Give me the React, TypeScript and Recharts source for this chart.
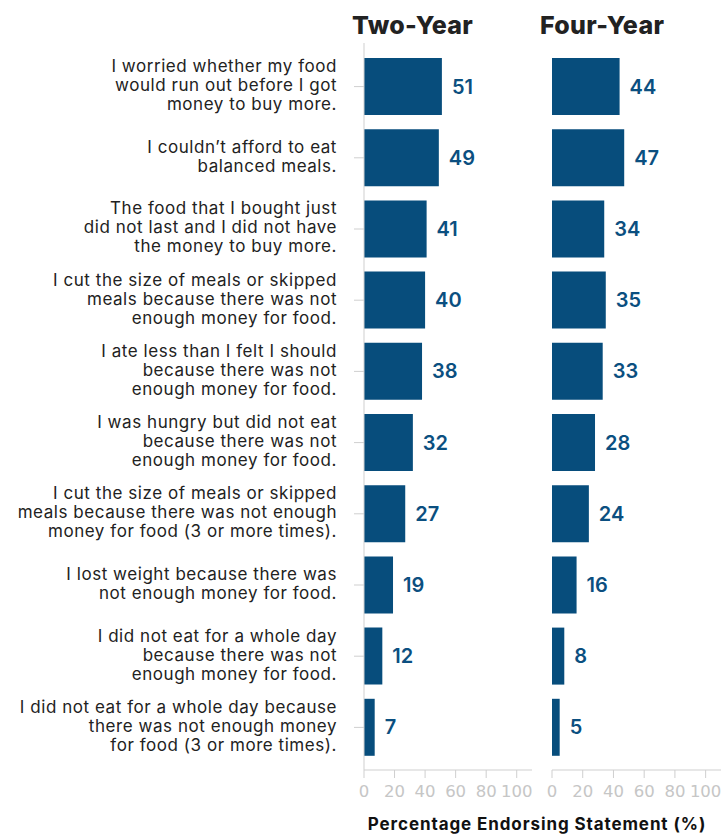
import React from 'react';
import { BarChart, Bar, XAxis, YAxis, LabelList } from 'recharts';

// statements, split into the lines shown on the chart
const statements: string[][] = [
  ['I worried whether my food', 'would run out before I got', 'money to buy more.'],
  ['I couldn\u2019t afford to eat', 'balanced meals.'],
  ['The food that I bought just', 'did not last and I did not have', 'the money to buy more.'],
  ['I cut the size of meals or skipped', 'meals because there was not', 'enough money for food.'],
  ['I ate less than I felt I should', 'because there was not', 'enough money for food.'],
  ['I was hungry but did not eat', 'because there was not', 'enough money for food.'],
  ['I cut the size of meals or skipped', 'meals because there was not enough', 'money for food (3 or more times).'],
  ['I lost weight because there was', 'not enough money for food.'],
  ['I did not eat for a whole day', 'because there was not', 'enough money for food.'],
  ['I did not eat for a whole day because', 'there was not enough money', 'for food (3 or more times).'],
];

const twoYear = [51, 49, 41, 40, 38, 32, 27, 19, 12, 7];
const fourYear = [44, 47, 34, 35, 33, 28, 24, 16, 8, 5];

const xTicks = [0, 20, 40, 60, 80, 100];
const panelTitles = ['Two-Year', 'Four-Year'];
const axisTitle = 'Percentage Endorsing Statement (%)';

const barColor = '#074d7c';
const labelColor = '#0b4f80';
const axisColor = '#cfcfcf';
const font = 'Inter, "Noto Sans", sans-serif';

const data = statements.map((lines, i) => ({
  name: lines.join(' '),
  two: twoYear[i],
  four: fourYear[i],
}));

const StatementTick = (props: any) => {
  const { x, y, payload } = props;
  const idx = data.findIndex(d => d.name === payload.value);
  const lines = idx >= 0 ? statements[idx] : [String(payload.value)];
  const lh = 19;
  const startY = y - ((lines.length - 1) * lh) / 2 - 1.5;
  return (
    <text
      x={x}
      y={startY}
      textAnchor="end"
      fill="#222"
      fontSize={17}
      letterSpacing={0.55}
      fontFamily={font}
    >
      {lines.map((ln, i) => (
        <tspan key={i} x={x} y={startY + i * lh} dy="0.35em">
          {ln}
        </tspan>
      ))}
    </text>
  );
};

const xAxisProps = {
  type: 'number' as const,
  domain: [0, 110],
  ticks: xTicks,
  height: 30,
  tickSize: 8,
  tickMargin: 7,
  axisLine: { stroke: axisColor },
  tickLine: { stroke: axisColor },
  tick: { fill: '#c6c6c6', fontSize: 16.5, fontFamily: '"DejaVu Sans", sans-serif' },
};

const labelStyle = { fill: labelColor, fontSize: 20, fontWeight: 600, fontFamily: font };

export default function App() {
  const H = 835;
  const margin = { top: 43, bottom: 35 };
  return (
    <div style={{ position: 'absolute', left: 0, top: 0, width: 721, height: H, background: '#fff', fontFamily: font }}>
      <div style={{ position: 'absolute', left: 0, top: 0 }}>
        <BarChart width={547} height={H} data={data} layout="vertical" margin={{ ...margin, left: 0, right: 15 }} barSize={57}>
          <XAxis {...xAxisProps} />
          <YAxis
            type="category"
            dataKey="name"
            width={364}
            interval={0}
            tickSize={10}
            tickMargin={17}
            padding={{ top: 8, bottom: 7 }}
            axisLine={{ stroke: axisColor }}
            tickLine={{ stroke: axisColor }}
            tick={<StatementTick />}
          />
          <Bar dataKey="two" fill={barColor} isAnimationActive={false}>
            <LabelList dataKey="two" position="right" offset={10} style={labelStyle} />
          </Bar>
        </BarChart>
      </div>
      <div style={{ position: 'absolute', left: 540, top: 0 }}>
        <BarChart width={181} height={H} data={data} layout="vertical" margin={{ ...margin, left: 12, right: 0 }} barSize={57}>
          <XAxis {...xAxisProps} />
          <YAxis type="category" dataKey="name" hide padding={{ top: 8, bottom: 7 }} />
          <Bar dataKey="four" fill={barColor} isAnimationActive={false}>
            <LabelList dataKey="four" position="right" offset={10} style={labelStyle} />
          </Bar>
        </BarChart>
      </div>
      {panelTitles.map((t, i) => (
        <div
          key={t}
          style={{
            position: 'absolute',
            left: i === 0 ? 352 : 540,
            top: 10,
            fontSize: 25,
            fontWeight: 800,
            letterSpacing: 0.3,
            color: '#222',
            lineHeight: '30px',
          }}
        >
          {t}
        </div>
      ))}
      <div
        style={{
          position: 'absolute',
          left: 287,
          width: 500,
          top: 814,
          textAlign: 'center',
          fontSize: 17,
          fontWeight: 700,
          letterSpacing: 0.9,
          color: '#111',
          lineHeight: '20px',
        }}
      >
        {axisTitle}
      </div>
    </div>
  );
}
